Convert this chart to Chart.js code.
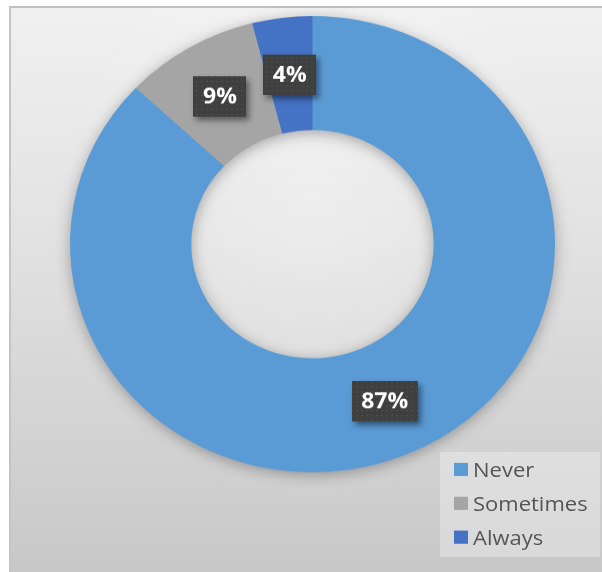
<!DOCTYPE html>
<html>
<head>
<meta charset="utf-8">
<script src="https://cdn.jsdelivr.net/npm/chart.js@4.4.1/dist/chart.umd.min.js"></script>
<style>
  html, body { margin: 0; padding: 0; background: #fff; overflow: hidden; }
  body { width: 602px; height: 572px; position: relative; font-family: "Open Sans", sans-serif; }
  #frame {
    position: absolute; left: 9px; top: 6px; width: 600px; height: 572px;
    border-top: 2px solid #c0c0c0; border-left: 2px solid #c4c4c4;
    background:
      radial-gradient(ellipse 260px 300px at 300px 200px, rgba(255,255,255,0.35), rgba(255,255,255,0) 100%),
      linear-gradient(to bottom, #f0f0f0 0%, #e2e2e2 40%, #c7c7c7 100%);
  }
  /* stage is drawn taller and squeezed, the reference ring is slightly oval */
  #stage { position: absolute; left: 0; top: 0; width: 602px; height: 608px; transform: scaleY(0.9408); transform-origin: 0 0; }
  #chart { position: absolute; left: 0; top: 0; }
  #legend {
    position: absolute; left: 440px; top: 480px; width: 160px; height: 112px;
    background: rgba(255,255,255,0.3);
  }
  #legend .item { height: 36px; line-height: 36px; font-size: 22px; color: #555555; padding-left: 14px; white-space: nowrap; }
  #legend .sw { display: inline-block; width: 14px; height: 14px; margin-right: 5px; vertical-align: middle; position: relative; top: -2px; }
</style>
</head>
<body>
<div id="frame"></div>
<div id="stage">
  <canvas id="chart" width="602" height="608"></canvas>
  <div id="legend"></div>
</div>
<script>
const labels = ["Never", "Sometimes", "Always"];
const values = [87, 9, 4];
const colors = ["#5b9bd5", "#a5a5a5", "#4472c4"];

// legend
const legendEl = document.getElementById("legend");
labels.forEach((lab, i) => {
    legendEl.innerHTML += `<div class="item"><span class="sw" style="background:${colors[i]}"></span>${lab}</div>`;
});

// dotted fill for the label boxes
function makeDots() {
    const tile = document.createElement("canvas");
    tile.width = 5; tile.height = 5;
    const t = tile.getContext("2d");
    t.fillStyle = "#3f3f3f";
    t.fillRect(0, 0, 5, 5);
    t.fillStyle = "#515151";
    t.fillRect(1, 1, 2, 1);
    return tile;
}

// soft shadow under the ring
const ringShadow = {
    id: "ringShadow",
    beforeDatasetsDraw(chart) {
        const arc = chart.getDatasetMeta(0).data[0];
        if (!arc) return;
        const { x, y, outerRadius, innerRadius } = arc.getProps(["x", "y", "outerRadius", "innerRadius"], true);
        const ctx = chart.ctx;
        ctx.save();
        ctx.shadowColor = "rgba(0,0,0,0.35)";
        ctx.shadowBlur = 16;
        ctx.shadowOffsetY = 3;
        ctx.fillStyle = colors[0];
        ctx.beginPath();
        ctx.arc(x, y, outerRadius - 1, 0, Math.PI * 2);
        ctx.arc(x, y, innerRadius + 1, 0, Math.PI * 2, true);
        ctx.fill();
        ctx.restore();
    }
};

// dark percent boxes in the middle of each slice
const pctBoxes = {
    id: "pctBoxes",
    afterDatasetsDraw(chart) {
        const ctx = chart.ctx;
        const dots = ctx.createPattern(makeDots(), "repeat");
        ctx.save();
        ctx.font = 'bold 23px "Open Sans"';
        ctx.textAlign = "center";
        ctx.textBaseline = "middle";
        chart.getDatasetMeta(0).data.forEach((arc, i) => {
            const p = arc.tooltipPosition(true);
            const txt = values[i] + "%";
            const w = Math.round(ctx.measureText(txt).width + 19);
            const h = 43;
            const bx = Math.round(p.x - w / 2), by = Math.round(p.y - h / 2);
            ctx.save();
            ctx.shadowColor = "rgba(0,0,0,0.45)";
            ctx.shadowBlur = 6;
            ctx.shadowOffsetX = 3;
            ctx.shadowOffsetY = 4;
            ctx.fillStyle = "#3f3f3f";
            ctx.fillRect(bx, by, w, h);
            ctx.restore();
            ctx.fillStyle = dots;
            ctx.fillRect(bx, by, w, h);
            ctx.fillStyle = "#ffffff";
            ctx.fillText(txt, p.x, p.y + 1);
        });
        ctx.restore();
    }
};

new Chart(document.getElementById("chart"), {
    type: "doughnut",
    data: {
        labels: labels,
        datasets: [{
            data: values,
            backgroundColor: colors,
            borderWidth: 0,
            hoverOffset: 0
        }]
    },
    options: {
        responsive: false,
        animation: false,
        events: [],
        cutout: "50%",
        layout: { padding: { left: 70, right: 47, top: 17, bottom: 106 } },
        plugins: {
            legend: { display: false },
            tooltip: { enabled: false }
        }
    },
    plugins: [ringShadow, pctBoxes]
});
</script>
</body>
</html>
